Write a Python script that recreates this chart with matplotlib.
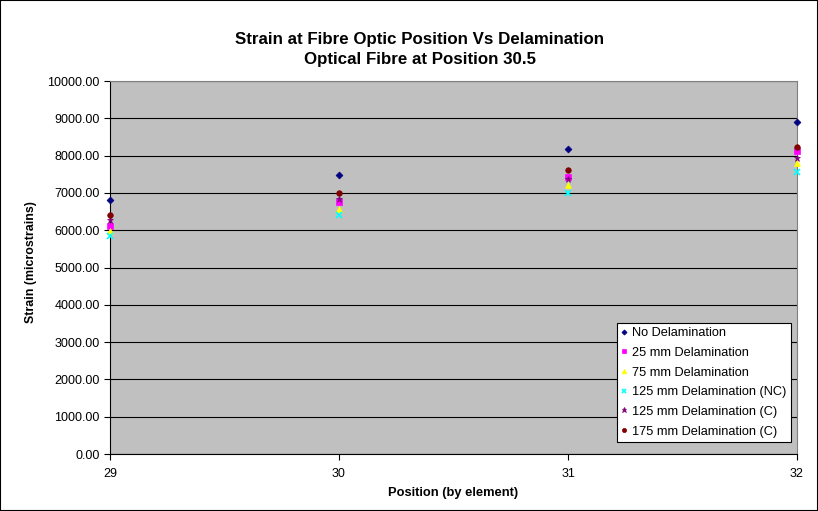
import matplotlib
matplotlib.use("Agg")
import matplotlib.pyplot as plt
from matplotlib.patches import Rectangle

plt.rcParams['font.family'] = ['Liberation Sans', 'DejaVu Sans']

positions = [29, 30, 31, 32]
no_delam = [6800, 7480, 8170, 8910]
delam_25 = [6110, 6750, 7435, 8120]
delam_75 = [5980, 6560, 7205, 7810]
delam_125_nc = [5850, 6410, 6990, 7550]
delam_125_c = [6270, 6835, 7375, 7930]
delam_175_c = [6400, 6990, 7605, 8240]

series = [
    ("No Delamination", no_delam, "D", "#000080", 3.5),
    ("25 mm Delamination", delam_25, "s", "#FF00FF", 4),
    ("75 mm Delamination", delam_75, "^", "#FFFF00", 4.5),
    ("125 mm Delamination (NC)", delam_125_nc, "x", "#00FFFF", 4.5),
    ("125 mm Delamination (C)", delam_125_c, "*", "#800080", 5),
    ("175 mm Delamination (C)", delam_175_c, "o", "#800000", 4),
]

fig = plt.figure(figsize=(8.18, 5.11), dpi=100)
ax = fig.add_axes([110/818, 57/511, 687/818, 373/511])
ax.set_facecolor("#C0C0C0")

for label, vals, mk, col, ms in series:
    ax.plot(positions, vals, linestyle="none", marker=mk, color=col,
            markersize=ms, markeredgewidth=1.2 if mk in ("x",) else 0.5,
            label=label, clip_on=False, zorder=3)

ax.set_xlim(29, 32)
ax.set_ylim(0, 10000)
ax.set_xticks(positions)
ax.set_xticklabels([str(p) for p in positions])
ax.set_yticks(range(0, 10001, 1000))
ax.set_yticklabels([f"{v:.2f}" for v in range(0, 10001, 1000)])
ax.yaxis.grid(True, color="black", linewidth=0.8)
ax.set_axisbelow(True)
ax.tick_params(axis="both", labelsize=9, direction="out", length=4, width=0.8)
ax.tick_params(axis="x", pad=6)
for side in ["top", "right"]:
    ax.spines[side].set_color("#808080")
for side in ["left", "bottom"]:
    ax.spines[side].set_color("black")

ax.set_xlabel("Position (by element)", fontsize=9.3, fontweight="bold")
ax.set_ylabel("Strain (microstrains)", fontsize=8.9, fontweight="bold")
ax.xaxis.set_label_coords(0.499, -0.1046)
ax.yaxis.set_label_coords(-0.115, 0.515)
ax.xaxis.label.set_va("center")
ax.yaxis.label.set_va("center")

fig.text(0.513, 0.903, "Strain at Fibre Optic Position Vs Delamination\nOptical Fibre at Position 30.5",
         ha="center", va="center", fontsize=12.2, fontweight="bold", linespacing=1.35)

leg = ax.legend(loc="lower right", fontsize=9.2, frameon=True, fancybox=False, borderpad=0.35,
                handlelength=0.5, handletextpad=0.35, labelspacing=0.6, markerscale=0.75,
                borderaxespad=0)
leg.set_bbox_to_anchor((791/818, 69/511), transform=fig.transFigure)
leg.get_frame().set_edgecolor("black")
leg.get_frame().set_linewidth(0.8)
leg.get_frame().set_facecolor("white")
leg.get_frame().set_alpha(1)

fig.patches.append(Rectangle((0, 0), 1, 1, transform=fig.transFigure, fill=False,
                             edgecolor="black", linewidth=1.5))

fig.savefig("out.png", dpi=100)
